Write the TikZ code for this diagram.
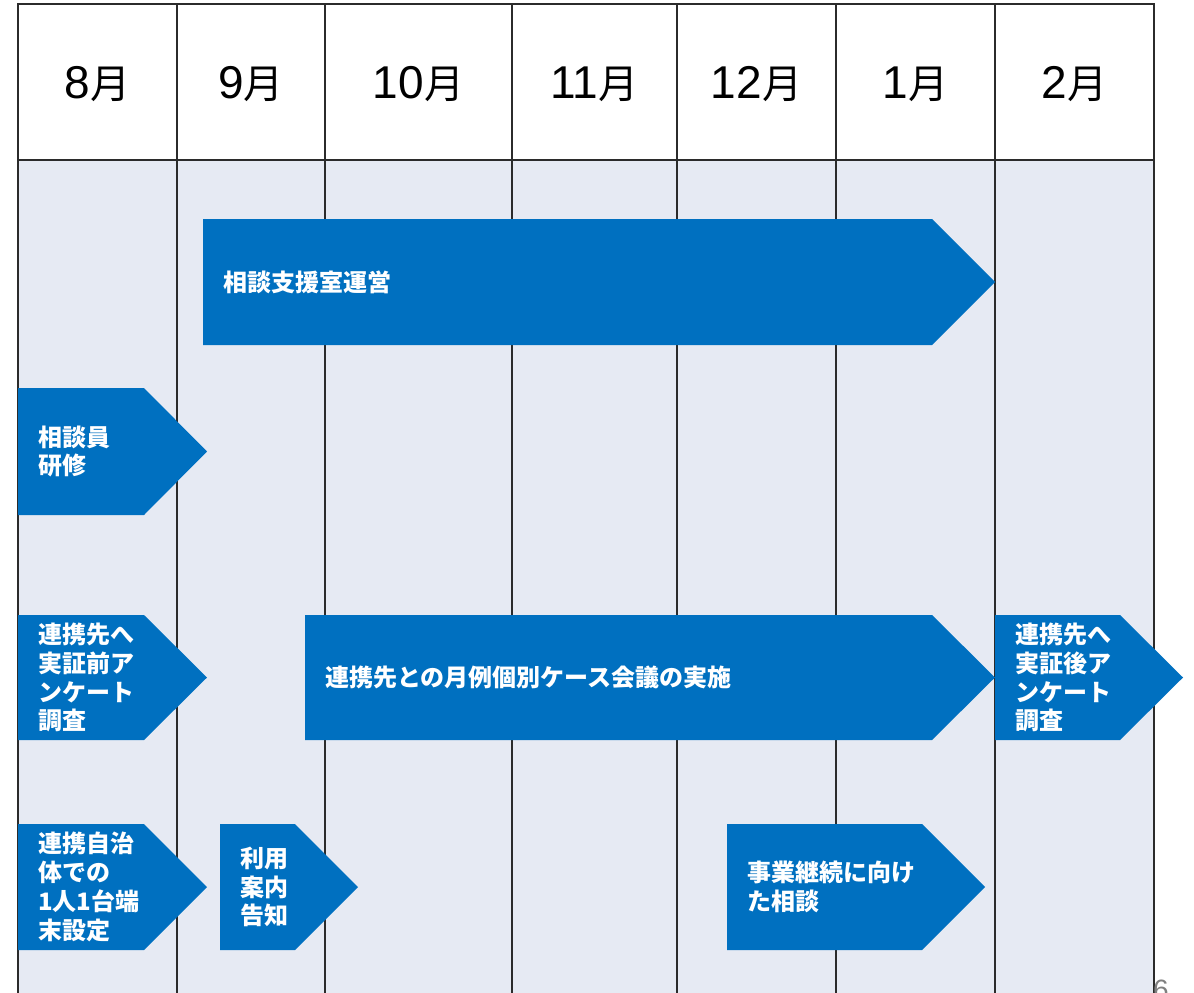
\documentclass[tikz,border=0pt]{standalone}
\usepackage{fontspec}
\setmainfont{Liberation Sans}
\newfontfamily\jp{Noto Sans CJK JP}
\definecolor{boxblue}{HTML}{0070C0}
\definecolor{bgcol}{HTML}{E6EAF3}
\definecolor{gridcol}{HTML}{2B2B2B}
\tikzset{
  gridline/.style={draw=gridcol, line width=2pt},
  bluebox/.style={fill=boxblue, draw=none},
  boxtext/.style={anchor=west, align=left, text=white, inner sep=0pt,
    font=\jp\bfseries\fontsize{24}{28.8}\selectfont},
  monthtext/.style={text=black, inner sep=0pt, font=\fontsize{46}{50}\selectfont},
  pagenum/.style={text=gray, inner sep=0pt, anchor=base west, font=\fontsize{28}{30}\selectfont}
}
\newcommand\pentbox[6]{% name, x1, y1, xtip, y2, text
  \fill[bluebox] (#2,#3) -- ({#4-63},#3) -- (#4,{(#3+#5)/2}) -- ({#4-63},#5) -- (#2,#5) -- cycle;
  \node[boxtext] (#1) at ({#2+20},{(#3+#5)/2}) {#6};
}
\newcommand\mon[1]{#1{\jp\fontsize{40}{44}\selectfont 月}}
\begin{document}
\begin{tikzpicture}[x=1pt,y=-1pt]
\useasboundingbox (0,0) rectangle (1194,993);
\fill[white] (0,0) rectangle (1194,993);
% background
\fill[white] (18,4) rectangle (1154,160);
\fill[bgcol] (18,160) rectangle (1154,1000);
% grid
\foreach \x in {18,177,325,512,677,836,995,1154}{
  \draw[gridline] (\x,4) -- (\x,1000);
}
\draw[gridline] (17,4) -- (1155,4);
\draw[gridline] (17,160) -- (1155,160);
% months
\node[monthtext] (m8)  at (97.5,84)  {\mon{8}};
\node[monthtext] (m9)  at (251,84)   {\mon{9}};
\node[monthtext] (m10) at (418.5,84) {\mon{10}};
\node[monthtext] (m11) at (594.5,84) {\mon{11}};
\node[monthtext] (m12) at (756.5,84) {\mon{12}};
\node[monthtext] (m1)  at (915.5,84) {\mon{1}};
\node[monthtext] (m2)  at (1074.5,84){\mon{2}};
% activity arrows
\pentbox{a1}{203}{219}{995}{345}{相談支援室運営}
\pentbox{a2}{18}{388}{207}{515}{相談員\\研修}
\pentbox{a3}{18}{615}{207}{740}{連携先へ\\実証前ア\\ンケート\\調査}
\pentbox{a4}{305}{615}{995}{740}{連携先との月例個別ケース会議の実施}
\pentbox{a5}{995}{615}{1183}{740}{連携先へ\\実証後ア\\ンケート\\調査}
\pentbox{a6}{18}{824}{207}{950}{連携自治\\体での\\1人1台端\\末設定}
\pentbox{a7}{220}{824}{358}{950}{利用\\案内\\告知}
\pentbox{a8}{727}{824}{985}{950}{事業継続に向け\\た相談}
% page number (cut off at bottom edge, as in the reference)
\begin{scope}
\clip (0,0) rectangle (1194,993);
\node[pagenum] (pn) at (1153,999) {6};
\end{scope}
\end{tikzpicture}
\end{document}
